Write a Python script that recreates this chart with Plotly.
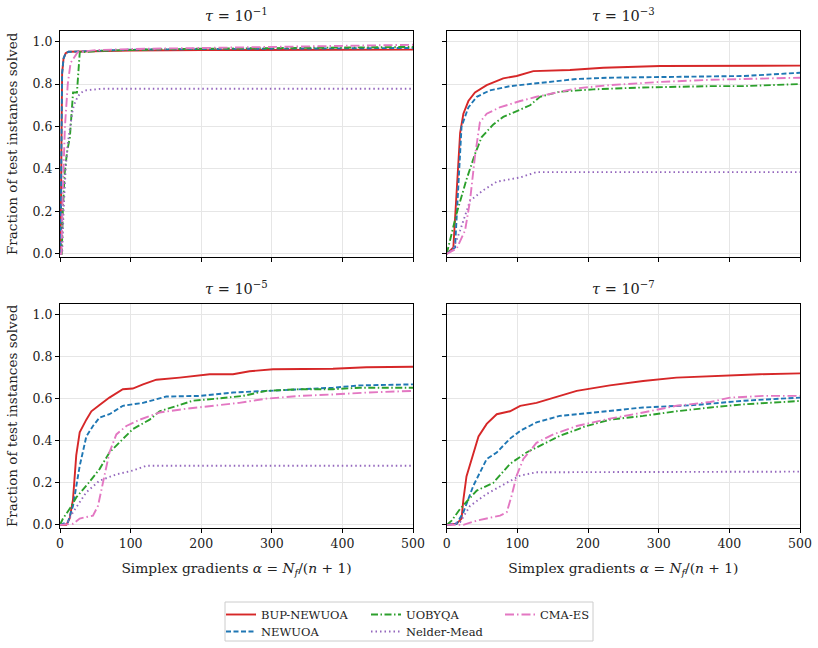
import plotly.graph_objects as go
from plotly.subplots import make_subplots

# ---------------- data ----------------
SERIES = ["BUP-NEWUOA", "NEWUOA", "UOBYQA", "Nelder-Mead", "CMA-ES"]
PANEL_TITLES = ["<i>τ</i> = 10<sup>−1</sup>", "<i>τ</i> = 10<sup>−3</sup>",
                "<i>τ</i> = 10<sup>−5</sup>", "<i>τ</i> = 10<sup>−7</sup>"]
Y_TICKS = [0.0, 0.2, 0.4, 0.6, 0.8, 1.0]
X_TICKS = [0, 100, 200, 300, 400, 500]
Y_TITLE = "Fraction of test instances solved"
X_TITLE = "Simplex gradients <i>α</i> = <i>N<sub>f</sub></i>/(<i>n</i> + 1)"

# tau = 1e-1
A1_BUP = [0, 1, 2, 3, 5, 8, 12, 50, 100, 200, 500]
F1_BUP = [0, 0.05, 0.5, 0.85, 0.92, 0.945, 0.952, 0.955, 0.958, 0.96, 0.962]
A1_NEW = [0, 1, 2, 3, 5, 8, 12, 50, 100, 200, 500]
F1_NEW = [0, 0.05, 0.5, 0.85, 0.92, 0.945, 0.952, 0.957, 0.962, 0.965, 0.97]
A1_UOB = [0, 2.5, 4, 6.6, 10, 14, 18.5, 24, 28, 60, 150, 300, 500]
F1_UOB = [0, 0.0, 0.2, 0.38, 0.48, 0.55, 0.76, 0.76, 0.95, 0.957, 0.965, 0.97, 0.975]
A1_NM = [0, 3, 5, 8, 11, 14, 18, 22, 28, 35, 60, 500]
F1_NM = [0, 0.0, 0.2, 0.4, 0.52, 0.6, 0.68, 0.72, 0.755, 0.77, 0.778, 0.778]
A1_CMA = [0, 2, 4, 7, 11, 15, 25, 50, 100, 300, 400, 500]
F1_CMA = [0, 0.0, 0.3, 0.6, 0.8, 0.9, 0.95, 0.96, 0.965, 0.975, 0.982, 0.985]

# tau = 1e-3
A3_BUP = [0, 9.4, 19, 23.6, 30.7, 40, 56.6, 80, 99, 122.6, 174.5, 221.7, 302, 500]
F3_BUP = [0, 0.03, 0.57, 0.66, 0.72, 0.76, 0.795, 0.827, 0.838, 0.861, 0.866, 0.877, 0.885, 0.887]
A3_NEW = [0, 11.8, 21, 30.7, 42.5, 61, 89.6, 137, 184, 231, 325, 420, 500]
F3_NEW = [0, 0.03, 0.6, 0.69, 0.74, 0.77, 0.79, 0.806, 0.824, 0.83, 0.835, 0.838, 0.853]
A3_UOB = [0, 4.7, 14, 28, 40, 49.5, 66, 80, 104, 118, 132, 160, 207.5, 278, 373, 420, 500]
F3_UOB = [0, 0.06, 0.19, 0.35, 0.47, 0.55, 0.61, 0.645, 0.68, 0.70, 0.74, 0.764, 0.775, 0.784, 0.79, 0.79, 0.80]
A3_NM = [0, 9.4, 19, 33, 52, 71, 104, 127, 500]
F3_NM = [0, 0.024, 0.11, 0.25, 0.30, 0.34, 0.36, 0.385, 0.385]
A3_CMA = [0, 14, 26, 33, 40, 47, 56.6, 75, 104, 127, 184, 231, 302, 373, 500]
F3_CMA = [0, 0.024, 0.11, 0.25, 0.46, 0.62, 0.66, 0.69, 0.72, 0.74, 0.78, 0.795, 0.81, 0.82, 0.83]

# tau = 1e-5
A5_BUP = [0, 9, 13.7, 18.4, 23, 27.9, 37.3, 44.4, 56, 70, 89, 103, 117.6, 136.5, 169.5, 188, 212, 245, 268.6, 301.7, 386.7, 434, 500]
F5_BUP = [0, 0, 0.03, 0.12, 0.33, 0.44, 0.50, 0.54, 0.57, 0.605, 0.645, 0.648, 0.668, 0.69, 0.70, 0.708, 0.716, 0.716, 0.73, 0.74, 0.742, 0.749, 0.752]
A5_NEW = [0, 11.3, 18.4, 27.9, 37.3, 46.7, 56, 70, 89, 117.6, 150.6, 198, 245, 292, 339.5, 386.7, 424.5, 500]
F5_NEW = [0, 0.013, 0.09, 0.28, 0.42, 0.47, 0.51, 0.526, 0.566, 0.58, 0.61, 0.613, 0.629, 0.637, 0.645, 0.652, 0.663, 0.668]
A5_UOB = [0, 4.2, 13.7, 23, 37.3, 56, 70, 89, 103, 127, 141, 169.5, 188, 221, 259, 292, 339.5, 386.7, 424.5, 500]
F5_UOB = [0, 0.03, 0.076, 0.13, 0.186, 0.265, 0.344, 0.41, 0.455, 0.50, 0.54, 0.57, 0.59, 0.60, 0.613, 0.637, 0.645, 0.645, 0.652, 0.652]
A5_NM = [0, 9, 18.4, 37.3, 56, 79.8, 103, 122, 500]
F5_NM = [0, 0.005, 0.06, 0.155, 0.21, 0.24, 0.258, 0.281, 0.281]
A5_CMA = [0, 18.4, 27.9, 46.7, 53.8, 60.9, 70, 79.8, 94, 113, 141, 174, 221, 254, 292, 339.5, 386.7, 434, 500]
F5_CMA = [0, 0.005, 0.03, 0.044, 0.09, 0.20, 0.344, 0.43, 0.47, 0.50, 0.534, 0.55, 0.566, 0.58, 0.60, 0.613, 0.62, 0.629, 0.637]

# tau = 1e-7
A7_BUP = [0, 14, 21, 23.6, 28, 35, 45, 56.6, 70.8, 89.6, 104, 127, 151, 184, 231, 278, 325, 396, 443, 500]
F7_BUP = [0, 0.005, 0.03, 0.12, 0.23, 0.31, 0.42, 0.48, 0.526, 0.54, 0.566, 0.58, 0.605, 0.637, 0.663, 0.684, 0.70, 0.71, 0.716, 0.72]
A7_NEW = [0, 14, 23.6, 37.7, 56.6, 70.8, 89.6, 104, 127, 160, 207.5, 278, 349, 420, 500]
F7_NEW = [0, 0.005, 0.06, 0.186, 0.313, 0.344, 0.41, 0.447, 0.487, 0.518, 0.534, 0.558, 0.569, 0.59, 0.605]
A7_UOB = [0, 7, 19, 42.5, 66, 89.6, 113, 137, 160, 198, 231, 278, 325, 373, 420, 500]
F7_UOB = [0, 0.02, 0.076, 0.163, 0.20, 0.29, 0.344, 0.384, 0.423, 0.47, 0.50, 0.518, 0.54, 0.558, 0.573, 0.589]
A7_NM = [0, 19, 33, 56.6, 85, 104, 127, 500]
F7_NM = [0, 0.013, 0.09, 0.147, 0.20, 0.234, 0.25, 0.253]
A7_CMA = [0, 23.6, 42.5, 75.5, 85, 92, 99, 108.5, 127, 151, 184, 231, 278, 325, 373, 401, 448, 500]
F7_CMA = [0, 0, 0.02, 0.044, 0.06, 0.14, 0.234, 0.313, 0.39, 0.43, 0.47, 0.505, 0.534, 0.566, 0.584, 0.605, 0.613, 0.613]

PANELS = [
    [(A1_BUP, F1_BUP), (A1_NEW, F1_NEW), (A1_UOB, F1_UOB), (A1_NM, F1_NM), (A1_CMA, F1_CMA)],
    [(A3_BUP, F3_BUP), (A3_NEW, F3_NEW), (A3_UOB, F3_UOB), (A3_NM, F3_NM), (A3_CMA, F3_CMA)],
    [(A5_BUP, F5_BUP), (A5_NEW, F5_NEW), (A5_UOB, F5_UOB), (A5_NM, F5_NM), (A5_CMA, F5_CMA)],
    [(A7_BUP, F7_BUP), (A7_NEW, F7_NEW), (A7_UOB, F7_UOB), (A7_NM, F7_NM), (A7_CMA, F7_CMA)],
]

# ---------------- styles ----------------
COLORS = ["#d62728", "#1f77b4", "#2ca02c", "#9467bd", "#e377c2"]
DASHES = ["solid", "5px,2.5px", "7px,2.5px,1.5px,2.5px", "1.5px,3px", "9px,3px,1.5px,3px"]
LEGENDS = ["legend", "legend2", "legend3", "legend4", "legend5"]
# legend item (left, top) in pixels: column-major 3-column layout
LEG_POS = [(221, 600), (221, 617), (366, 600), (366, 617), (500, 600)]
FONT = "DejaVu Serif"

W, H = 818, 648
ML, MR, MT, MB = 60, 18, 31, 120
PW, PH = W - ML - MR, H - MT - MB

fig = make_subplots(rows=2, cols=2, horizontal_spacing=0.0452, vertical_spacing=0.0946)

pos = [(1, 1), (1, 2), (2, 1), (2, 2)]
for p, (r, c) in enumerate(pos):
    for s, (xs, ys) in enumerate(PANELS[p]):
        fig.add_trace(go.Scatter(
            x=xs, y=ys, mode="lines", name=SERIES[s],
            line=dict(color=COLORS[s], width=1.9, dash=DASHES[s]),
            showlegend=(p == 0), legend=LEGENDS[s], hoverinfo="skip"),
            row=r, col=c)
    sfx = "" if p == 0 else str(p + 1)
    fig.add_annotation(text=PANEL_TITLES[p], xref=f"x{sfx} domain", yref=f"y{sfx} domain",
                       x=0.5, y=1, yanchor="bottom", yshift=5, showarrow=False,
                       font=dict(family=FONT, size=14.5, color="#222"))

for p, (r, c) in enumerate(pos):
    fig.update_xaxes(range=[0, 500], tickvals=X_TICKS, showticklabels=(r == 2),
                     ticks="outside", ticklen=4, tickwidth=1, tickcolor="black",
                     showline=True, linecolor="black", linewidth=1.3, mirror=True,
                     showgrid=True, gridcolor="#e6e6e6", gridwidth=0.8, zeroline=False,
                     tickfont=dict(family=FONT, size=12.5, color="#222"),
                     row=r, col=c)
    if r == 2:
        fig.update_xaxes(title=dict(text=X_TITLE, font=dict(family=FONT, size=13.8, color="#222"),
                                    standoff=13), row=r, col=c)
    fig.update_yaxes(range=[-0.015, 1.05], tickvals=Y_TICKS, ticktext=[f"{v:.1f}" for v in Y_TICKS],
                     showticklabels=(c == 1),
                     ticks="outside", ticklen=4, tickwidth=1, tickcolor="black",
                     showline=True, linecolor="black", linewidth=1.3, mirror=True,
                     showgrid=True, gridcolor="#e6e6e6", gridwidth=0.8, zeroline=False,
                     tickfont=dict(family=FONT, size=12.5, color="#222"),
                     row=r, col=c)

# explicit domains matching the reference layout
YD_TOP = [(528 - 257) / PH, 1]
YD_BOT = [0, (528 - 304) / PH]
fig.update_layout(
    xaxis=dict(domain=[0, 353 / PW]), xaxis2=dict(domain=[(446.7 - ML) / PW, 1]),
    xaxis3=dict(domain=[0, 353 / PW]), xaxis4=dict(domain=[(446.7 - ML) / PW, 1]),
    yaxis=dict(domain=YD_TOP), yaxis2=dict(domain=YD_TOP),
    yaxis3=dict(domain=YD_BOT), yaxis4=dict(domain=YD_BOT),
)

# y-axis titles for the left panels
for yd in (YD_TOP, YD_BOT):
    fig.add_annotation(text=Y_TITLE, textangle=-90, xref="paper", yref="paper",
                       x=(12 - ML) / PW, y=(yd[0] + yd[1]) / 2, xanchor="center", yanchor="middle",
                       showarrow=False, font=dict(family=FONT, size=13.5, color="#222"))

leg_common = dict(orientation="v", xref="container", yref="container", xanchor="left",
                  yanchor="top", bgcolor="rgba(0,0,0,0)", borderwidth=0,
                  font=dict(family=FONT, size=11.5, color="#222"), itemwidth=30,
                  tracegroupgap=0)
fig.update_layout(**{
    name: dict(leg_common, x=px / W, y=1 - py / H)
    for name, (px, py) in zip(LEGENDS, LEG_POS)
})

# legend frame
fig.add_shape(type="rect", xref="paper", yref="paper",
              x0=(225 - ML) / PW, x1=(593 - ML) / PW,
              y0=(528 - 641) / PH, y1=(528 - 602) / PH,
              line=dict(color="#cccccc", width=1), fillcolor="rgba(0,0,0,0)")

fig.update_layout(width=W, height=H, margin=dict(l=ML, r=MR, t=MT, b=MB, autoexpand=False),
                  plot_bgcolor="white", paper_bgcolor="white",
                  font=dict(family=FONT, color="#222"))

fig.write_html("out.html")
